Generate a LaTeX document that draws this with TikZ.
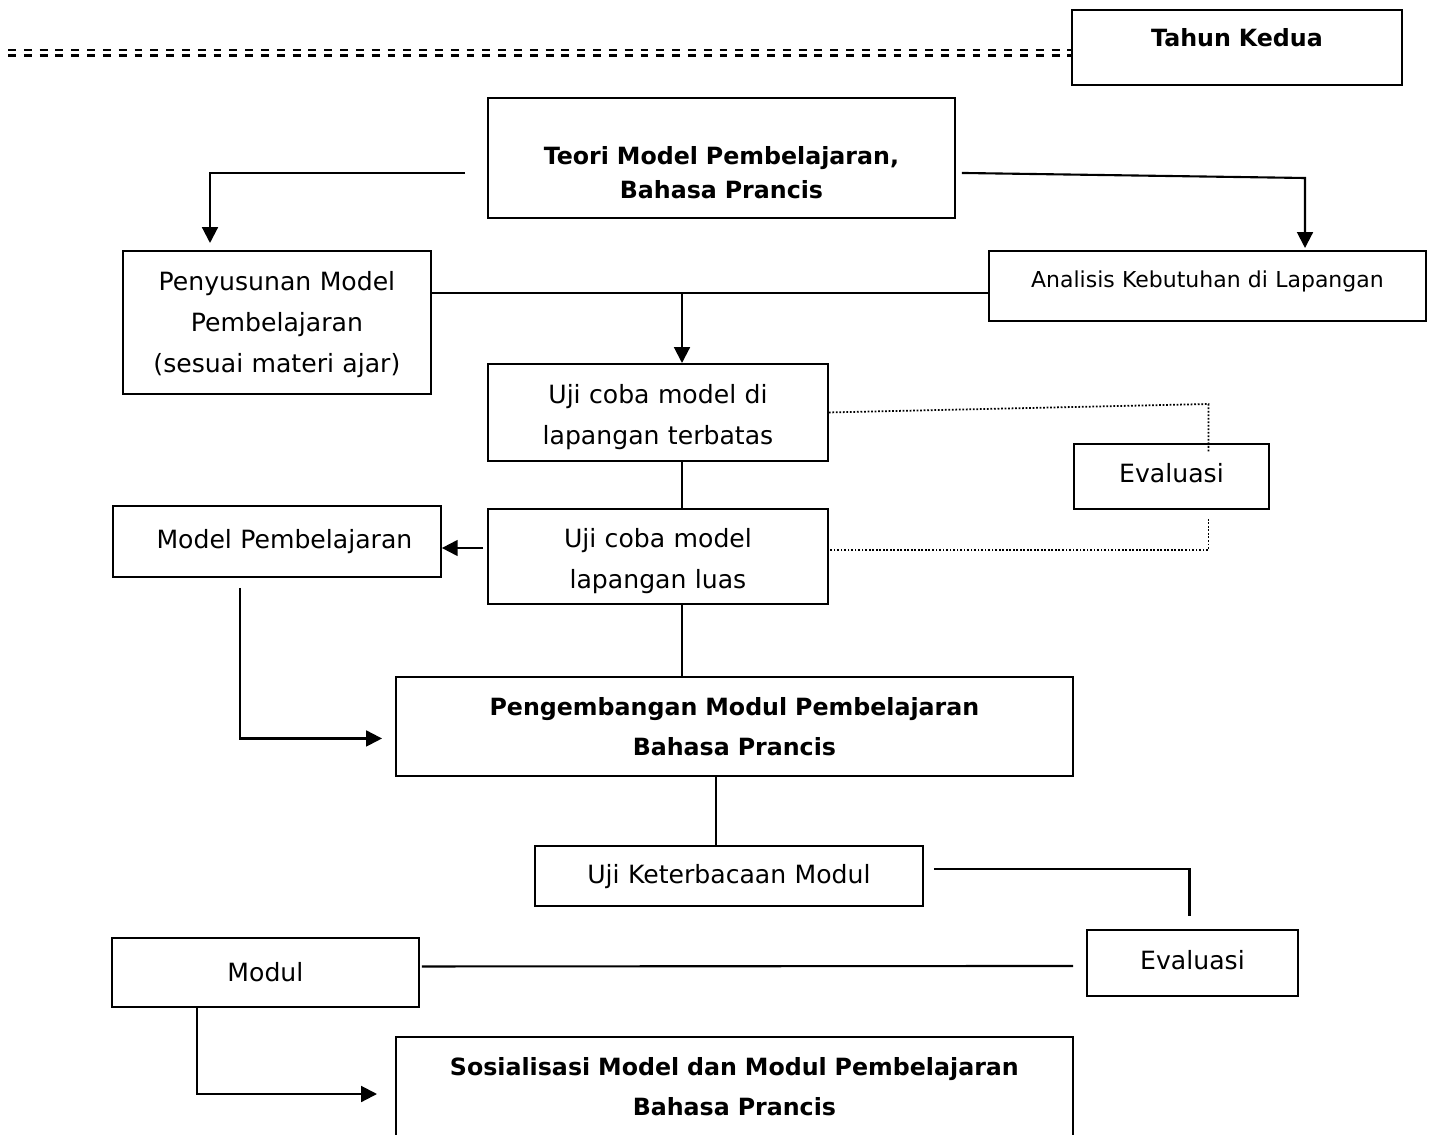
\documentclass[tikz,border=0pt]{standalone}
\usepackage{fontspec}
\setmainfont{DejaVu Sans}
\usetikzlibrary{arrows.meta,calc}
\tikzset{
  box/.style={draw=black, line width=1.1pt, inner sep=0pt,
              anchor=north west, align=center,
              font=\fontsize{14.3}{23.2}\selectfont},
  boldbox/.style={box, font=\fontsize{13.5}{22.7}\selectfont\bfseries},
  link/.style={black, line width=1.2pt},
  flow/.style={link, -{Triangle[length=9pt,width=9pt]}},
  evalline/.style={black, line width=1pt, dash pattern=on 1pt off 1pt},
  yearline/.style={black, line width=1.7pt, dash pattern=on 4.5pt off 4.5pt},
}

\begin{document}
\begin{tikzpicture}[x=0.02cm,y=-0.02cm]
  \useasboundingbox (0,0) rectangle (1429,1135);

  % Year header.
  \node[boldbox, text width=6.6cm, text height=0.74cm, text depth=0.76cm]
    (tahun) at (1071,9) {Tahun Kedua};
  \coordinate (yearA) at (8,50);
  \coordinate (yearB) at (8,55.5);
  \draw[yearline] (yearA) -- (yearA -| tahun.west);
  \draw[yearline] (yearB) -- (yearB -| tahun.west);

  % Theory and its two branches.
  \node[boldbox, font=\fontsize{13.5}{19.3}\selectfont\bfseries,
        text width=9.34cm, text height=1.34cm, text depth=1.06cm]
    (teori) at (487,97) {Teori Model Pembelajaran,\\Bahasa Prancis};
  \node[box, text width=6.16cm, text height=0.8cm, text depth=2.06cm]
    (susun) at (122,250) {Penyusunan Model\\Pembelajaran\\(sesuai materi ajar)};
  \node[box, font=\fontsize{12.5}{15}\selectfont,
        text width=8.74cm, text height=0.74cm, text depth=0.66cm]
    (analisis) at (988,250) {Analisis Kebutuhan di Lapangan};
  \draw[flow] ($(teori.west)+(-22,15)$) -| ($(susun.north west)+(88,-7)$);
  \draw[flow] ($(teori.east)+(6,15)$) -- (1305,178)
    -- ($(analisis.north west)+(317,-2)$);

  % Field trials.
  \coordinate (join) at (682,293);
  \draw[link] (susun.east |- join) -- (analisis.west |- join);
  \node[box, text width=6.8cm, text height=0.8cm, text depth=1.14cm]
    (ujiA) at (487,363) {Uji coba model di\\lapangan terbatas};
  \draw[flow] (join) -- (join |- ujiA.north);
  \node[box, text width=6.8cm, text height=0.78cm, text depth=1.12cm]
    (ujiB) at (487,508) {Uji coba model\\lapangan luas};
  \draw[link] (join |- ujiA.south) -- (join |- ujiB.north);
  \node[box, text width=6.56cm, text height=0.86cm, text depth=0.56cm]
    (modelP) at (112,505) {\hspace*{0.3cm}Model Pembelajaran};
  \coordinate (ujiBL) at (483,548);
  \draw[flow] (ujiBL) -- (ujiBL -| modelP.east);

  % Evaluation of the trials.
  \node[box, text width=3.9cm, text height=0.78cm, text depth=0.52cm]
    (evalA) at (1073,443) {Evaluasi};
  \coordinate (evTop) at ($(evalA.north)+(37,-39)$);
  \coordinate (evBot) at ($(evalA.south)+(37,40)$);
  \draw[evalline] (ujiA.east) -- (evTop) -- ($(evalA.north)+(37,9)$);
  \draw[evalline] ($(evalA.south)+(37,9)$) -- (evBot) -- (evBot -| ujiB.east);

  % Module development.
  \node[boldbox, text width=13.54cm, text height=0.78cm, text depth=1.2cm]
    (kembang) at (395,676) {Pengembangan Modul Pembelajaran\\Bahasa Prancis};
  \draw[flow] ($(modelP.south west)+(128,10)$) |- ($(kembang.west)+(-13,12)$);
  \draw[link] (join |- ujiB.south) -- (join |- kembang.north);
  \node[box, text width=7.76cm, text height=0.76cm, text depth=0.44cm]
    (baca) at (534,845) {Uji Keterbacaan Modul};
  \coordinate (bacaIn) at ($(kembang.south)+(-18,0)$);
  \draw[link] (bacaIn) -- (bacaIn |- baca.north);
  \node[box, text width=4.22cm, text height=0.8cm, text depth=0.52cm]
    (evalB) at (1086,929) {Evaluasi};
  \draw[link] ($(baca.east)+(10,-7)$) -| ($(evalB.north)+(-3,-13)$);
  \node[box, text width=6.14cm, text height=0.88cm, text depth=0.5cm]
    (modul) at (111,937) {Modul};
  \draw[link] ($(modul.east)+(2,-6)$) -- ($(evalB.west)+(-13,3)$);

  % Dissemination.
  \node[boldbox, text width=13.54cm, text height=0.78cm, text depth=1.7cm]
    (sosial) at (395,1036) {Sosialisasi Model dan Modul Pembelajaran\\Bahasa Prancis};
  \draw[flow] ($(modul.south west)+(86,0)$) |- ($(sosial.north west)+(-18,58)$);
\end{tikzpicture}
\end{document}
